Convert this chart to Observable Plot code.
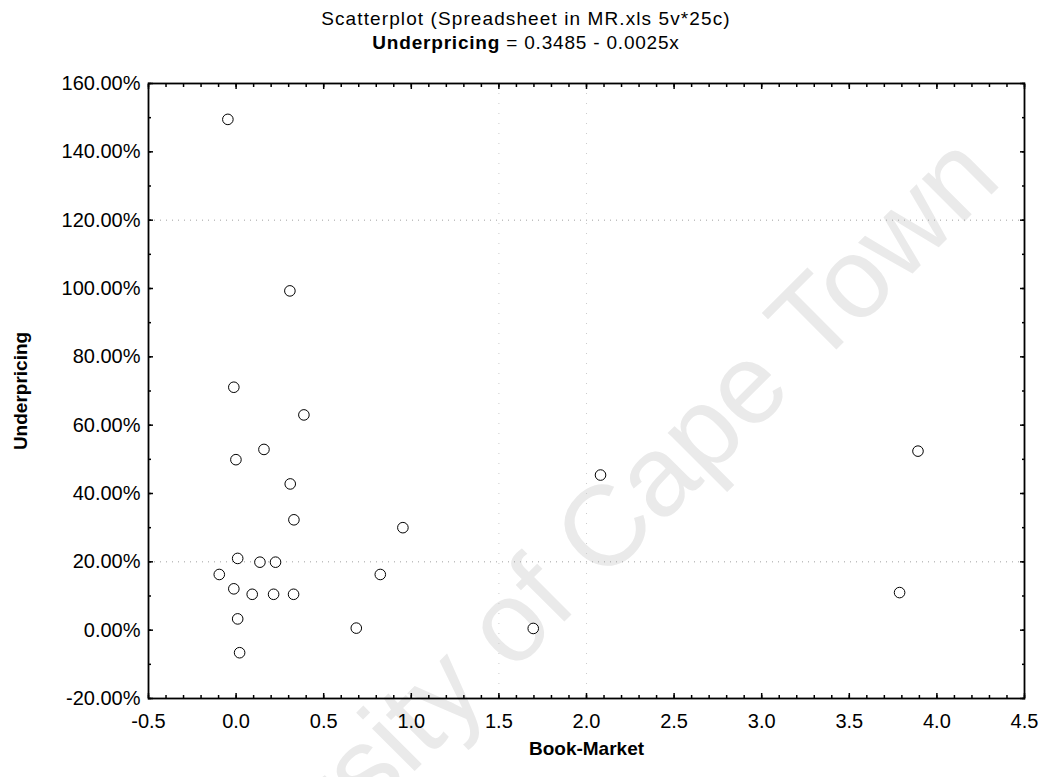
<!DOCTYPE html>
<html><head><meta charset="utf-8">
<script src="https://cdn.jsdelivr.net/npm/d3@7"></script>
<script src="https://cdn.jsdelivr.net/npm/@observablehq/plot@0.6"></script>
<style>
body{margin:0;background:#fff;font-family:"Liberation Sans",Arial,sans-serif;color:#000;}
#wrap{position:relative;width:1052px;height:777px;overflow:hidden;}
#wm{position:absolute;left:0;top:0;}
#head{position:relative;height:60px;text-align:center;}
#t1{position:absolute;left:0;right:0;top:8px;font-size:19px;letter-spacing:1.1px;}
#t2{position:absolute;left:0;right:0;top:32px;font-size:19px;letter-spacing:0.8px;}
#chart{position:relative;}
</style></head>
<body><div id="wrap">
<svg id="wm" width="1052" height="777"><text x="542" y="588" transform="rotate(-45 542 588)" text-anchor="middle" dominant-baseline="central" font-family="Liberation Sans, Arial, sans-serif" font-size="114" fill="#eaeaea">University of Cape Town</text></svg>
<div id="head"><div id="t1">Scatterplot (Spreadsheet in MR.xls 5v*25c)</div><div id="t2"><b>Underpricing</b> = 0.3485 - 0.0025x</div></div>
<div id="chart"></div>
</div>
<script>
const bookMarket = [-0.047, 0.307, -0.013, 0.387, 0.159, -0.001, 0.309, 0.330, 0.952, 0.009, 0.136, 0.225, -0.096, 0.823, -0.013, 0.092, 0.214, 0.328, 0.009, 0.686, 0.020, 1.696, 2.080, 3.892, 3.787];
const underpricing = [149.5, 99.3, 71.1, 63.0, 52.9, 49.9, 42.8, 32.3, 30.0, 21.0, 19.9, 19.9, 16.3, 16.3, 12.1, 10.5, 10.5, 10.5, 3.3, 0.6, -6.6, 0.5, 45.4, 52.4, 11.0];
const xTicks = [-0.5, 0.0, 0.5, 1.0, 1.5, 2.0, 2.5, 3.0, 3.5, 4.0, 4.5];
const yTicks = [-20, 0, 20, 40, 60, 80, 100, 120, 140, 160];
const xMinorTicks = d3.range(-5, 46).map(i => i / 10);
const yMinorTicks = d3.range(-2, 17).map(i => i * 10);
const gridY = [20, 120];
const gridX = [1.5, 2.0];
const xLabel = "Book-Market";
const yLabel = "Underpricing";

const data = bookMarket.map((x, i) => ({x, y: underpricing[i]}));
const font = '"Liberation Sans", Arial, sans-serif';
const blank = () => "";

const plot = Plot.plot({
  width: 1052, height: 717,
  marginLeft: 148, marginRight: 28, marginTop: 23, marginBottom: 79,
  style: {background: "transparent", fontFamily: font, fontSize: "20px", color: "#000"},
  x: {domain: [-0.5, 4.5]},
  y: {domain: [-20, 160]},
  marks: [
    Plot.ruleY(gridY, {stroke: "#a0a0a0", strokeDasharray: "1,5", strokeWidth: 1}),
    Plot.ruleX(gridX, {stroke: "#cccccc", strokeDasharray: "1,9", strokeWidth: 1}),
    Plot.axisX({anchor: "bottom", ticks: xMinorTicks, tickSize: -3, tickFormat: blank, label: null, strokeWidth: 1.5}),
    Plot.axisX({anchor: "top", ticks: xMinorTicks, tickSize: -3, tickFormat: blank, label: null, strokeWidth: 1.5}),
    Plot.axisY({anchor: "left", ticks: yMinorTicks, tickSize: -3, tickFormat: blank, label: null, strokeWidth: 1.5}),
    Plot.axisY({anchor: "right", ticks: yMinorTicks, tickSize: -3, tickFormat: blank, label: null, strokeWidth: 1.5}),
    Plot.axisX({anchor: "bottom", ticks: xTicks, tickSize: -5, tickPadding: 20, tickFormat: d => d.toFixed(1), label: null, fontSize: 20, strokeWidth: 1.5}),
    Plot.axisX({anchor: "top", ticks: xTicks, tickSize: -5, tickFormat: blank, label: null, strokeWidth: 1.5}),
    Plot.axisY({anchor: "left", ticks: yTicks, tickSize: -5, tickPadding: 13, tickFormat: d => d.toFixed(2) + "%", label: null, fontSize: 20, strokeWidth: 1.5}),
    Plot.axisY({anchor: "right", ticks: yTicks, tickSize: -5, tickFormat: blank, label: null, strokeWidth: 1.5}),
    Plot.frame({stroke: "#000", strokeWidth: 1.8}),
    Plot.dot(data, {x: "x", y: "y", r: 5.3, stroke: "#000", strokeWidth: 1, fill: "#fff"}),
    Plot.text([xLabel], {text: d => d, frameAnchor: "bottom", textAnchor: "middle", lineAnchor: "middle", dy: 50, fontWeight: "bold", fontSize: 19, letterSpacing: "0.4px"}),
    Plot.text([yLabel], {text: d => d, frameAnchor: "left", textAnchor: "middle", lineAnchor: "middle", dx: -128, rotate: -90, fontWeight: "bold", fontSize: 19, letterSpacing: "1.5px"})
  ]
});
document.getElementById("chart").appendChild(plot);
</script>
</body></html>
